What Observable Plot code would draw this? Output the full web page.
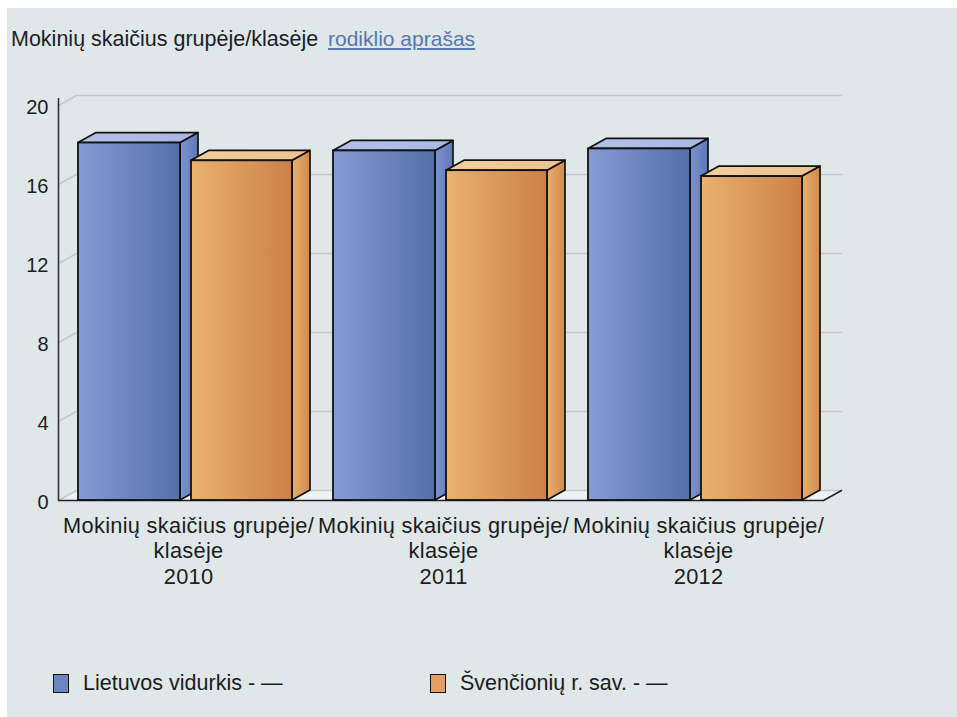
<!DOCTYPE html>
<html>
<head>
<meta charset="utf-8">
<script src="https://cdn.jsdelivr.net/npm/d3@7"></script>
<script src="https://cdn.jsdelivr.net/npm/@observablehq/plot@0.6"></script>
<style>
  html, body { margin: 0; padding: 0; background: #ffffff; }
  body { width: 957px; height: 717px; position: relative; overflow: hidden; font-family: "Liberation Sans", Arial, sans-serif; }
  #panel { position: absolute; left: 7px; top: 8px; width: 950px; height: 709px; background: #dfe7e9; }
  #title { position: absolute; left: 4px; top: 19px; font-size: 21.5px; line-height: 24px; color: #1c1c28; white-space: nowrap; }
  #link { position: absolute; left: 321px; top: 19px; font-size: 21px; line-height: 24px; color: #5577b0; text-decoration: underline; white-space: nowrap; }
  #chart { position: absolute; left: 0px; top: 72px; }
  .leg { position: absolute; top: 663px; font-size: 21.5px; line-height: 24px; color: #1c1c1c; white-space: nowrap; }
  .sw { position: absolute; top: 666px; width: 14px; height: 17px; border: 1.5px solid #111; }
</style>
</head>
<body>
<div id="panel">
  <div id="title"></div>
  <div id="link"></div>
  <div id="chart"></div>
  <div class="sw" id="sw0" style="left:46px; background:#6c84c3;"></div>
  <div class="leg" id="leg0" style="left:76px;"></div>
  <div class="sw" id="sw1" style="left:423px; background:#e2a062;"></div>
  <div class="leg" id="leg1" style="left:453px;"></div>
</div>
<script>
// ---- data ----
const titleText = "Mokinių skaičius grupėje/klasėje";
const linkText = "rodiklio aprašas";
const years = ["2010", "2011", "2012"];
const categoryLabel = "Mokinių skaičius grupėje/\nklasėje";
const seriesNames = ["Lietuvos vidurkis - —", "Švenčionių r. sav. - —"];
const lietuvos = [18.1, 17.7, 17.8];
const svencioniu = [17.2, 16.7, 16.4];
const yTicks = [0, 4, 8, 12, 16, 20];

// ---- layout constants ----
const W = 950, H = 520;
const xRange = [51, 816];       // 3 groups of 255px
const yRange = [420, 25];       // 0 .. 20
const yMax = 20;
const pxX = 3 / (xRange[1] - xRange[0]);
const pxY = yMax / (yRange[0] - yRange[1]);
const dX = 18 * pxX, dY = 10 * pxY;
const barOffsetPx = [20, 133], barWidthPx = [102, 101];
const axisTop = 20.35;

document.getElementById("title").textContent = titleText;
document.getElementById("link").textContent = linkText;
document.getElementById("leg0").textContent = seriesNames[0];
document.getElementById("leg1").textContent = seriesNames[1];

const seriesValues = [lietuvos, svencioniu];
const gradIds = [["bFront", "bSide", "bTop"], ["oFront", "oSide", "oTop"]];

function barsFor(s) {
  return seriesValues[s].map((v, i) => {
    const x1 = i + barOffsetPx[s] * pxX;
    const x2 = x1 + barWidthPx[s] * pxX;
    return { id: s + "-" + i, x1, x2, v };
  });
}

const floorData = [{ y: 0, x1: 0, x2: 3 }, { y: dY, x1: dX, x2: 3 + dX }];
const gridData = yTicks.flatMap(t => [
  { t, x: 0, y: t }, { t, x: dX, y: t + dY }, { t, x: 3 + dX, y: t + dY }
]);
const floorEdge = [{ x: 0, y: 0 }, { x: 3, y: 0 }, { x: 3 + dX, y: dY }];

const marks = [
  Plot.areaX(floorData, { y: "y", x1: "x1", x2: "x2", fill: "#eef2f3", curve: "linear" }),
  Plot.line(gridData, { x: "x", y: "y", z: "t", stroke: "#c3c8ca", strokeWidth: 1.5, curve: "linear" }),
  Plot.line(floorEdge, { x: "x", y: "y", stroke: "#222", strokeWidth: 1.6, curve: "linear" }),
  Plot.ruleX([{ x: 0 }], { x: "x", y1: () => 0, y2: () => axisTop, stroke: "#333", strokeWidth: 1.6 })
];

for (let s = 0; s < 2; s++) {
  const bars = barsFor(s);
  const sideData = bars.flatMap(b => [
    { id: b.id, x: b.x2, y1: 0, y2: b.v },
    { id: b.id, x: b.x2 + dX, y1: dY, y2: b.v + dY }
  ]);
  const topData = bars.flatMap(b => [
    { id: b.id, y: b.v, x1: b.x1, x2: b.x2 },
    { id: b.id, y: b.v + dY, x1: b.x1 + dX, x2: b.x2 + dX }
  ]);
  marks.push(
    Plot.areaY(sideData, { x: "x", y1: "y1", y2: "y2", z: "id", fill: `url(#${gradIds[s][1]})`, stroke: "#111", strokeWidth: 1.7, strokeLinejoin: "round", curve: "linear" }),
    Plot.areaX(topData, { y: "y", x1: "x1", x2: "x2", z: "id", fill: `url(#${gradIds[s][2]})`, stroke: "#111", strokeWidth: 1.7, strokeLinejoin: "round", curve: "linear" }),
    Plot.rect(bars, { x1: "x1", x2: "x2", y1: () => 0, y2: "v", fill: `url(#${gradIds[s][0]})`, stroke: "#111", strokeWidth: 1.8 })
  );
}

marks.push(
  Plot.text(yTicks.map(t => ({ x: 0, t })), { x: "x", y: "t", text: d => String(d.t), textAnchor: "end", dx: -10, dy: 2, fontSize: 20, fill: "#1c1c1c" }),
  Plot.text(years.map((yr, i) => ({ x: i + 0.51, y: 0, label: categoryLabel + "\n" + yr })),
    { x: "x", y: "y", text: "label", lineAnchor: "top", dy: 14, fontSize: 21.8, lineHeight: 1.17, fill: "#1c1c1c" })
);

const svg = Plot.plot({
  width: W,
  height: H,
  x: { type: "linear", domain: [0, 3], range: xRange, axis: null },
  y: { type: "linear", domain: [0, yMax], range: yRange, axis: null },
  style: { background: "transparent", fontFamily: "'Liberation Sans', Arial, sans-serif", overflow: "visible" },
  marks
});

d3.select(svg).selectAll("text")
  .filter(function () { return this.textContent.includes("Mokinių"); })
  .attr("letter-spacing", "0.3px");

const defs = d3.select(svg).insert("defs", ":first-child");
function grad(id, c0, c1, vertical) {
  const g = defs.append("linearGradient").attr("id", id)
    .attr("x1", 0).attr("y1", 0).attr("x2", vertical ? 0 : 1).attr("y2", vertical ? 1 : 0);
  g.append("stop").attr("offset", "0%").attr("stop-color", c0);
  g.append("stop").attr("offset", "100%").attr("stop-color", c1);
}
grad("bFront", "#879bd6", "#5470a7");
grad("bSide", "#7d93d2", "#5e78b4");
grad("bTop", "#b2c1e9", "#a8b8e3");
grad("oFront", "#e9b26f", "#cb8049");
grad("oSide", "#e9ae6b", "#d18a4e");
grad("oTop", "#f2cd9f", "#ecc290");

document.getElementById("chart").appendChild(svg);
</script>
</body>
</html>
